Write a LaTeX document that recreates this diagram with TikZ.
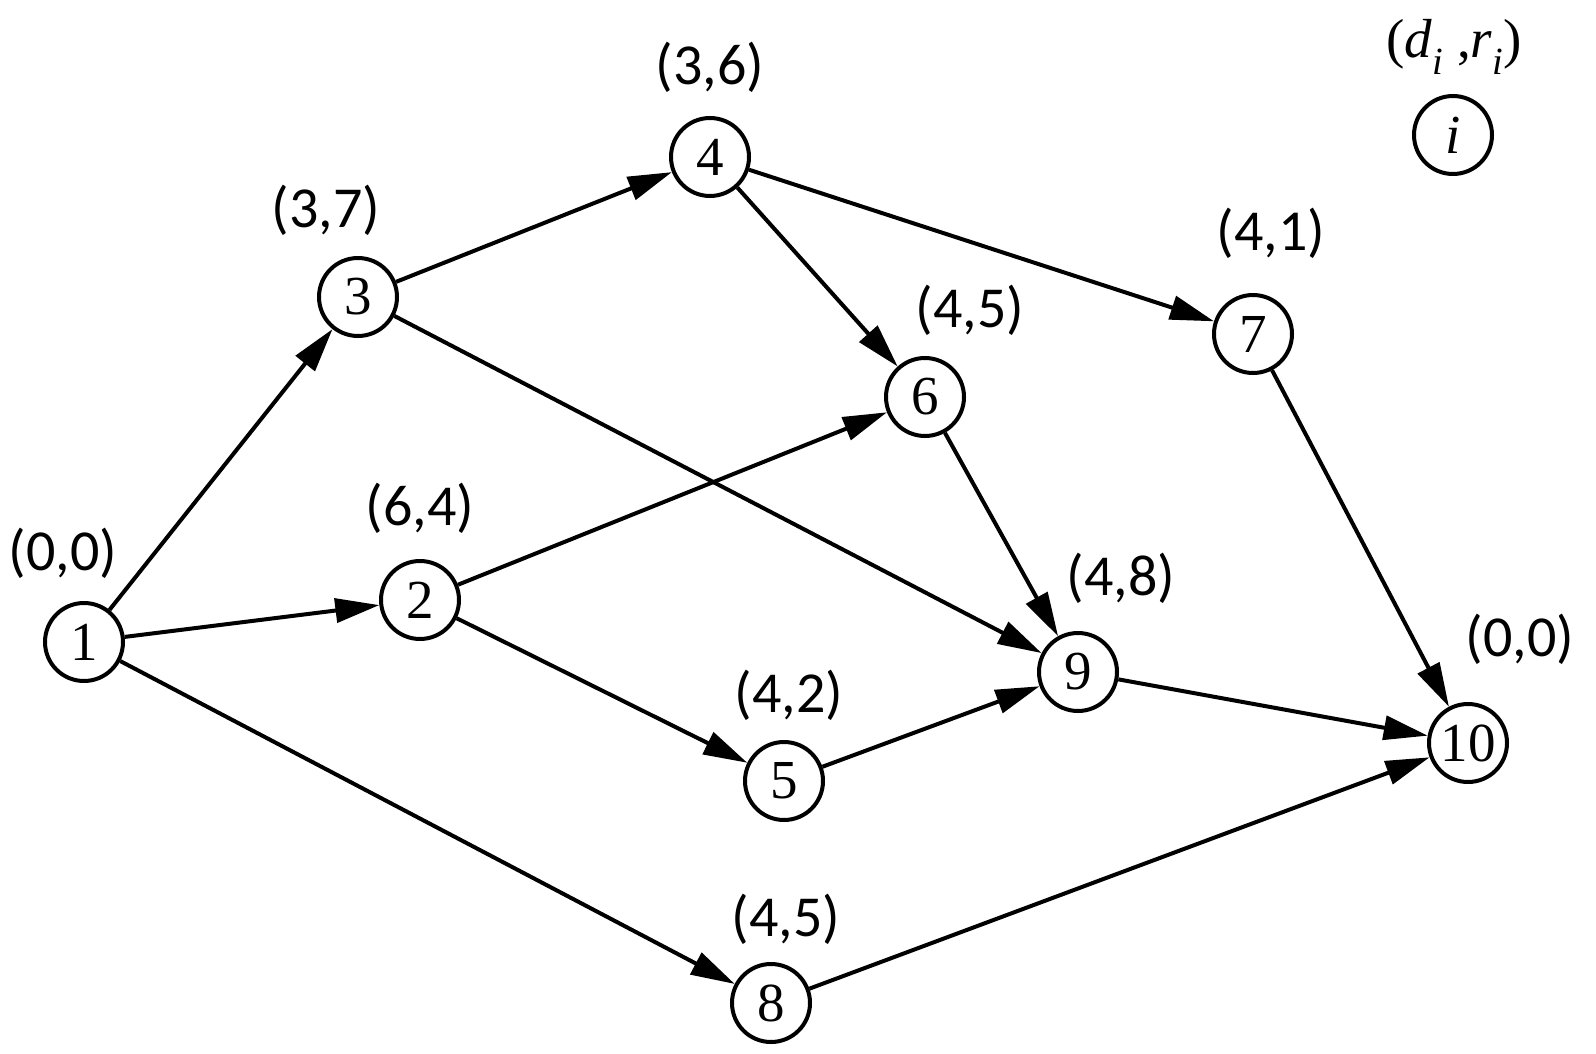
\documentclass[tikz,border=0pt]{standalone}
\usepackage{fontspec}
\setmainfont{Liberation Serif}
\newfontfamily\pairfont{Carlito}
\usetikzlibrary{arrows.meta,automata}

\begin{document}
\begin{tikzpicture}[x=1pt,y=-1pt,->,>={Triangle[length=44pt,width=24pt]},line width=4pt,
  every node/.style={font=\fontsize{55}{62}\selectfont}]
  \tikzstyle{every state}=[draw,line width=4pt,fill=white,minimum size=78pt,inner sep=0pt]
  \tikzstyle{pair}=[font=\pairfont\fontsize{58}{62}\selectfont]
  \useasboundingbox (0,0) rectangle (1596,1054);

  \node[state] (n1)  at (84,642)   {1};
  \node[state] (n2)  at (420,600)  {2};
  \node[state] (n3)  at (358,297)  {3};
  \node[state] (n4)  at (710,157)  {4};
  \node[state] (n5)  at (784,781)  {5};
  \node[state] (n6)  at (925,397)  {6};
  \node[state] (n7)  at (1253,334) {7};
  \node[state] (n8)  at (771,1003) {8};
  \node[state] (n9)  at (1078,672) {9};
  \node[state] (n10) at (1468,743) {10};
  \node[state] (ni)  at (1453,135) {\textit{i}};

  \node[pair] (p1)  at (63,553)   {(0,0)};
  \node[pair] (p2)  at (420,508)  {(6,4)};
  \node[pair] (p3)  at (326,210)  {(3,7)};
  \node[pair] (p4)  at (710,67)   {(3,6)};
  \node[pair] (p5)  at (789,695)  {(4,2)};
  \node[pair] (p6)  at (970,310)  {(4,5)};
  \node[pair] (p7)  at (1271,233) {(4,1)};
  \node[pair] (p8)  at (786,919)  {(4,5)};
  \node[pair] (p9)  at (1121,578) {(4,8)};
  \node[pair] (p10) at (1520,639) {(0,0)};
  \node (pi) at (1454,47) {(\textit{d}\textsubscript{\textit{i}} ,\textit{r}\textsubscript{\textit{i}})};

  \path (n1) edge (n3) edge (n2) edge (n8)
        (n3) edge (n4) edge (n9)
        (n4) edge (n6) edge (n7)
        (n2) edge (n6) edge (n5)
        (n6) edge (n9)
        (n5) edge (n9)
        (n7) edge (n10)
        (n9) edge (n10)
        (n8) edge (n10);
\end{tikzpicture}
\end{document}
